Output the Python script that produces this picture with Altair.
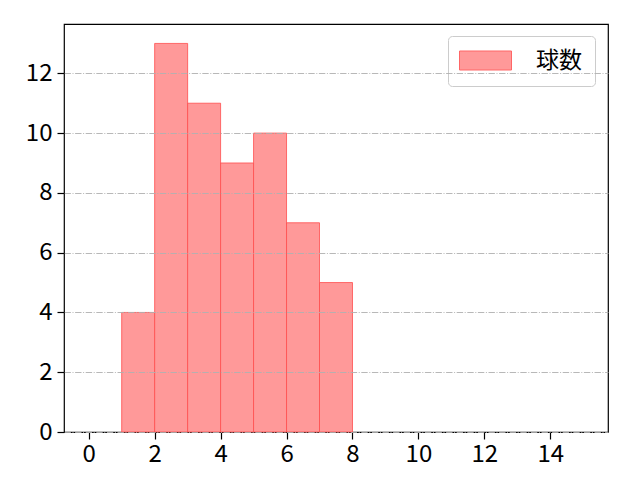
import altair as alt
import pandas as pd

bin_start = [1, 2, 3, 4, 5, 6, 7]
bin_end = [2, 3, 4, 5, 6, 7, 8]
counts = [4, 13, 11, 9, 10, 7, 5]
series = ["球数"] * len(counts)
x_ticks = [0, 2, 4, 6, 8, 10, 12, 14]
y_ticks = [0, 2, 4, 6, 8, 10, 12]

df = pd.DataFrame({"start": bin_start, "end": bin_end, "count": counts, "series": series})

FONT = "Noto Sans CJK JP"

bars = alt.Chart(df).mark_bar(
    stroke="#ff4d4d", strokeWidth=1, strokeOpacity=0.8
).encode(
    x=alt.X("start:Q",
            scale=alt.Scale(domain=[-0.75, 15.75], nice=False, zero=False),
            axis=alt.Axis(values=x_ticks, title=None, grid=False, format="d",
                          labelFontSize=24, labelFont=FONT, labelColor="black",
                          tickColor="black", tickSize=7, tickWidth=1.2,
                          domain=False, labelPadding=3)),
    x2="end:Q",
    y=alt.Y("count:Q",
            scale=alt.Scale(domain=[0, 13.65], nice=False),
            axis=alt.Axis(values=y_ticks, title=None, grid=True, format="d",
                          gridColor="#b0b0b0", gridDash=[6.4, 1.6, 1, 1.6], gridWidth=0.9,
                          labelFontSize=24, labelFont=FONT, labelColor="black",
                          tickColor="black", tickSize=7, tickWidth=1.2,
                          domain=False, labelPadding=5, zindex=1)),
    y2=alt.datum(0),
    color=alt.Color("series:N",
                    scale=alt.Scale(domain=["球数"], range=["#ff9999"]),
                    legend=alt.Legend(
                        title=None, orient="none", legendX=384, legendY=12,
                        symbolType="M-1.3,-0.95 h5.2 v1.9 h-5.2 Z", symbolSize=400,
                        symbolStrokeColor="#ff6666", symbolStrokeWidth=1,
                        labelFontSize=23, labelFont=FONT, labelColor="black",
                        labelOffset=52, padding=13,
                        fillColor="white", strokeColor="#cccccc", cornerRadius=4,
                        symbolOpacity=1)),
)

chart = bars.properties(
    width=544, height=408,
    autosize=alt.AutoSizeParams(type="none"),
    padding={"left": 56, "top": 16, "right": 24, "bottom": 48},
).configure(background="white").configure_view(
    stroke="black", strokeWidth=1.2
)

chart.save("out.html", embed_options={"renderer": "svg", "actions": False})
